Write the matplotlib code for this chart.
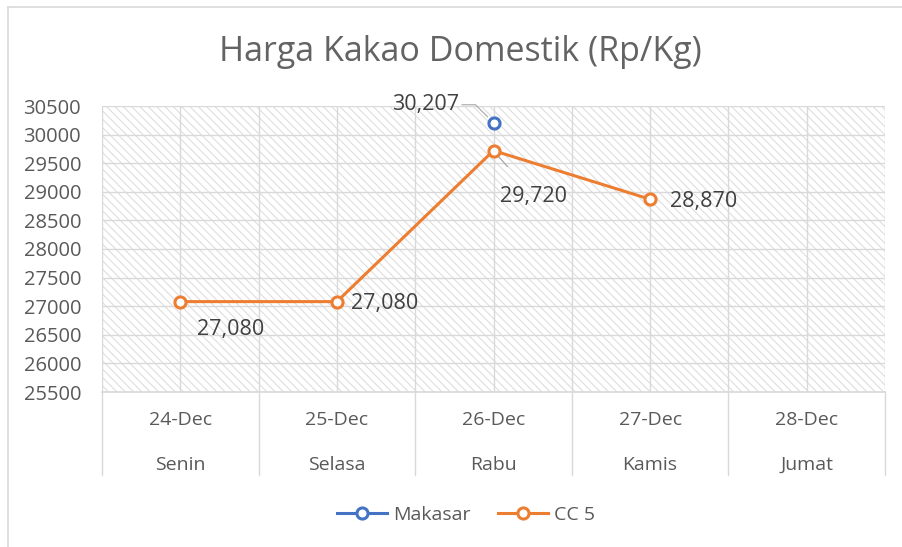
import matplotlib
matplotlib.use('Agg')
import matplotlib.pyplot as plt
import matplotlib.transforms as mtransforms
from matplotlib.patches import Rectangle
from matplotlib.lines import Line2D
import numpy as np

plt.rcParams['font.family'] = ['Open Sans', 'DejaVu Sans']

# data
dates = ["24-Dec", "25-Dec", "26-Dec", "27-Dec", "28-Dec"]
days = ["Senin", "Selasa", "Rabu", "Kamis", "Jumat"]
makasar = [np.nan, np.nan, 30207, np.nan, np.nan]
cc5 = [27080, 27080, 29720, 28870, np.nan]

title = "Harga Kakao Domestik (Rp/Kg)"
y_ticks = list(range(25500, 30501, 500))

COLORS = {
    "blue": "#4472C4",
    "orange": "#ED7D31",
    "text": "#595959",
    "grid": "#D9D9D9",
    "hatch": "#DADADA",
}

W, H = 902, 547
fig = plt.figure(figsize=(W / 100, H / 100), dpi=100, facecolor='white')

# chart border (only top and left visible in the crop)
fig.lines.append(Line2D([8 / W, 1], [1 - 7 / H, 1 - 7 / H], transform=fig.transFigure,
                        color=COLORS["grid"], linewidth=1.2))
fig.lines.append(Line2D([8 / W, 8 / W], [0, 1 - 7 / H], transform=fig.transFigure,
                        color=COLORS["grid"], linewidth=1.2))

# plot area in pixels
left, right, top, bottom = 102, 885, 106, 392
ax = fig.add_axes([left / W, 1 - bottom / H, (right - left) / W, (bottom - top) / H])
ax.set_xlim(-0.5, 4.5)
ax.set_ylim(25500, 30500)

# hatched background
plt.rcParams['hatch.linewidth'] = 0.7
ax.add_patch(Rectangle((0, 0), 1, 1, transform=ax.transAxes, facecolor='white',
                       edgecolor=COLORS["hatch"], hatch='\\\\\\\\', linewidth=0, zorder=0))

# grid
ax.set_yticks(y_ticks)
ax.set_yticklabels([str(v) for v in y_ticks], fontsize=14.5, color=COLORS["text"])
for v in y_ticks:
    ax.axhline(v, color=COLORS["grid"], linewidth=1, zorder=1)
for x in np.arange(-0.5, 4.6, 0.5):
    ax.axvline(x, color=COLORS["grid"], linewidth=1, zorder=1)

for s in ['top', 'left', 'right']:
    ax.spines[s].set_visible(False)
ax.spines['bottom'].set_color(COLORS["grid"])
ax.spines['bottom'].set_linewidth(1.2)
ax.tick_params(axis='y', length=0, pad=15)
ax.set_xticks([])

# category labels (two levels)
trans = mtransforms.blended_transform_factory(ax.transData, ax.transAxes)
sep_bottom = -(475 - bottom) / (bottom - top)
for b in np.arange(-0.5, 4.6, 1.0):
    ax.plot([b, b], [0, sep_bottom], transform=trans, color=COLORS["grid"], linewidth=1, clip_on=False)
for i in range(len(dates)):
    ax.text(i, -(420 - bottom) / (bottom - top), dates[i], transform=trans, ha='center', va='center',
            fontsize=14, color=COLORS["text"])
    ax.text(i, -(465 - bottom) / (bottom - top), days[i], transform=trans, ha='center', va='center',
            fontsize=14, color=COLORS["text"])

# series
x = np.arange(len(dates))
ax.plot(x, makasar, color=COLORS["blue"], linewidth=2.2, marker='o', markersize=8,
        markerfacecolor='white', markeredgewidth=2.2, label='Makasar', zorder=4)
ax.plot(x, cc5, color=COLORS["orange"], linewidth=2.2, marker='o', markersize=8,
        markerfacecolor='white', markeredgewidth=2.2, label='CC 5', zorder=4)

# data labels
label_style = dict(textcoords='offset pixels', ha='center', va='center', fontsize=15.5, color='#404040')
ax.annotate("27,080", (0, 27080), xytext=(50, -28), **label_style)
ax.annotate("27,080", (1, 27080), xytext=(48, -2), **label_style)
ax.annotate("29,720", (2, 29720), xytext=(40, -46),
            arrowprops=dict(arrowstyle='-', color='#A6A6A6', linewidth=0.8, shrinkA=16, shrinkB=6),
            **label_style)
ax.annotate("30,207", (2, 30207), xytext=(-68, 18),
            arrowprops=dict(arrowstyle='-', color='#A6A6A6', linewidth=0.8, shrinkA=40, shrinkB=6,
                            connectionstyle='angle,angleA=0,angleB=-45,rad=0'),
            **label_style)
ax.annotate("28,870", (3, 28870), xytext=(54, -2), **label_style)

# title
fig.text(460 / W, 1 - 52 / H, title, ha='center', va='center', fontsize=24.5, color='#636363')

# legend
leg = fig.legend(loc='center', bbox_to_anchor=(466 / W, 1 - 515 / H), ncol=2, frameon=False,
                 fontsize=14, handlelength=2.6, columnspacing=1.4, handletextpad=0.3)
for t in leg.get_texts():
    t.set_color(COLORS["text"])

fig.savefig('out.png', dpi=100, facecolor='white')
